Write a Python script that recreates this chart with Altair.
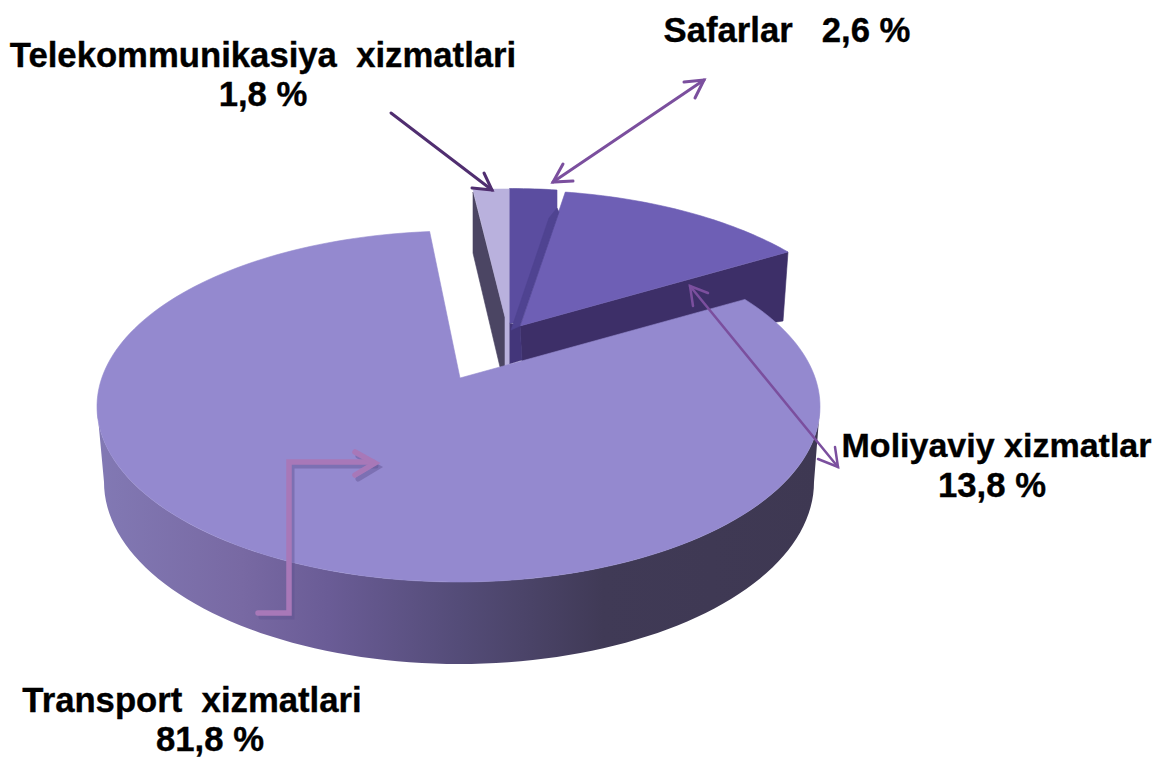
import math
import altair as alt
import pandas as pd

# Values
categories = ["Transport xizmatlari", "Moliyaviy xizmatlar", "Safarlar", "Telekommunikasiya xizmatlari"]
shares = [81.8, 13.8, 2.6, 1.8]
share_labels = ["81,8 %", "13,8 %", "2,6 %", "1,8 %"]

W, H = 1144, 749
X = alt.X("x:Q", scale=alt.Scale(domain=[8, 8 + W], range=[0, W], nice=False, zero=False), axis=None)
Y = alt.Y("y:Q", scale=alt.Scale(domain=[8 + H, 8], range=[H, 0], nice=False, zero=False), axis=None)
A, B = 361.5, 175.5


def rim(cx, cy, t0, share, squeeze, clockwise=False, a=A, b=B, n=None):
    sweep = share * 3.6 * squeeze
    n = n or max(8, int(sweep))
    sign = -1 if clockwise else 1
    return [(cx + a * math.cos(math.radians(t0 + sign * sweep * i / n)),
             cy - b * math.sin(math.radians(t0 + sign * sweep * i / n))) for i in range(n + 1)]


def poly(points, color, stroke=True):
    df = pd.DataFrame([{"x": p[0], "y": p[1], "i": i} for i, p in enumerate(points)])
    kw = dict(stroke=color, strokeWidth=0.6) if stroke else dict(strokeWidth=0, strokeOpacity=0)
    return alt.Chart(df).mark_line(fill=color, interpolate="linear-closed", clip=False, **kw).encode(
        x=X, y=Y, order="i:Q")


def path(points, color, width, opacity=1.0):
    df = pd.DataFrame([{"x": p[0], "y": p[1], "i": i} for i, p in enumerate(points)])
    return alt.Chart(df).mark_line(color=color, strokeWidth=width, opacity=opacity,
                                   strokeCap="round", strokeJoin="miter").encode(x=X, y=Y, order="i:Q")


def label(txt, x, y, size=34.7):
    df = pd.DataFrame([{"x": x, "y": y, "t": txt}])
    return alt.Chart(df).mark_text(font="Liberation Sans", fontWeight="bold", fontSize=size, color="#000000",
                                   stroke="#000000", strokeWidth=0.35,
                                   align="center", baseline="middle").encode(x=X, y=Y, text="t:N")


NB = "\u00a0"
S_T, S_M, S_S, S_K = shares

layers = []
# Moliyaviy
layers.append(poly([(520, 326), (788, 252), (783, 321), (522, 362)], "#3d2f68"))
layers.append(poly([(520, 326)] + rim(512.7, 365.7, 40.4, S_M, 0.83), "#6e5fb5"))
# Safarlar
layers.append(poly([(509.5, 323), (520, 326), (522, 360), (509.5, 364)], "#43367a"))
layers.append(poly(rim(509.8, 364, 82.5, S_S, 0.76) + [(509.5, 188.5), (509.5, 323), (518, 323), (557, 213)], "#5b4da0"))
layers.append(poly([(557, 208), (559, 212), (520, 326), (511, 330), (549, 218)], "#4f4391"))
# Telekommunikasiya
layers.append(poly([(473, 192), (473, 253), (500, 367), (505, 367), (505, 317)], "#4b4563"))
layers.append(poly(rim(509, 364.5, 90, S_K, 0.88) + [(505, 317), (505, 367), (509, 365)], "#b9b1dd"))
# Transport side
side_grad = alt.LinearGradient(
    gradient="linear", x1=0, x2=1, y1=0, y2=0,
    stops=[alt.GradientStop(offset=0.0, color="#8279b4"), alt.GradientStop(offset=0.2, color="#7869a3"),
           alt.GradientStop(offset=0.32, color="#6a5c96"), alt.GradientStop(offset=0.5, color="#544c78"),
           alt.GradientStop(offset=0.7, color="#403a56"), alt.GradientStop(offset=1.0, color="#3e3852")])
top_half = rim(458.5, 406.5, 180, 50, 1.0, n=90)
bot_half = rim(459, 482, 180, 50, 1.0, a=355, b=182, n=90)
layers.append(alt.Chart(pd.DataFrame(
    [{"x": p[0], "y": p[1], "i": i} for i, p in enumerate(top_half + bot_half[::-1])]
)).mark_line(fill=side_grad, strokeWidth=0, strokeOpacity=0, interpolate="linear-closed").encode(x=X, y=Y, order="i:Q"))
# Transport top
layers.append(poly([(460, 378)] + rim(458.5, 406.5, 37.6, S_T, 1.029, clockwise=True, n=200), "#9489cf"))

# Arrows
c1, c2 = "#502e70", "#7b4f9e"
layers += [path([(391, 113), (492, 190)], c1, 3), path([(472, 188), (492, 190), (484, 173)], c1, 3)]
layers += [path([(553, 182), (704, 80)], c2, 3), path([(573, 181), (553, 182), (563, 164)], c2, 3),
           path([(684, 82), (704, 80), (695, 98)], c2, 3)]
layers += [path([(690, 286), (838, 467)], c2, 2.5), path([(708, 293), (690, 286), (693, 306)], c2, 2.5),
           path([(818, 459), (838, 467), (835, 447)], c2, 2.5)]
shadow = "#5f5390"
bent = [(258, 613), (289, 613), (289, 462), (373, 462)]
head = [(355, 452), (375, 463), (355, 475)]
layers += [path([(p[0] + 3, p[1] + 4) for p in bent], shadow, 5, 0.45),
           path([(p[0] + 3, p[1] + 4) for p in head], shadow, 5, 0.45),
           path(bent, "#a878b8", 5.5), path(head, "#a878b8", 5.5)]

# Labels
layers += [
    label(f"Telekommunikasiya{NB}{NB}xizmatlari", 263, 57),
    label(share_labels[3], 263, 96),
    label(f"Safarlar{NB}{NB}{NB}{share_labels[2]}", 787, 32),
    label("Moliyaviy xizmatlar", 996.5, 447, size=34),
    label(share_labels[1], 992, 487),
    label(f"Transport{NB}{NB}xizmatlari", 192, 702),
    label(share_labels[0], 210, 741),
]

chart = alt.layer(*layers).properties(
    width=W, height=H, padding=0,
    autosize=alt.AutoSizeParams(type="none"),
    background="#ffffff",
).configure_view(stroke=None)

chart.save("out.html", embed_options={"renderer": "svg", "actions": False})
